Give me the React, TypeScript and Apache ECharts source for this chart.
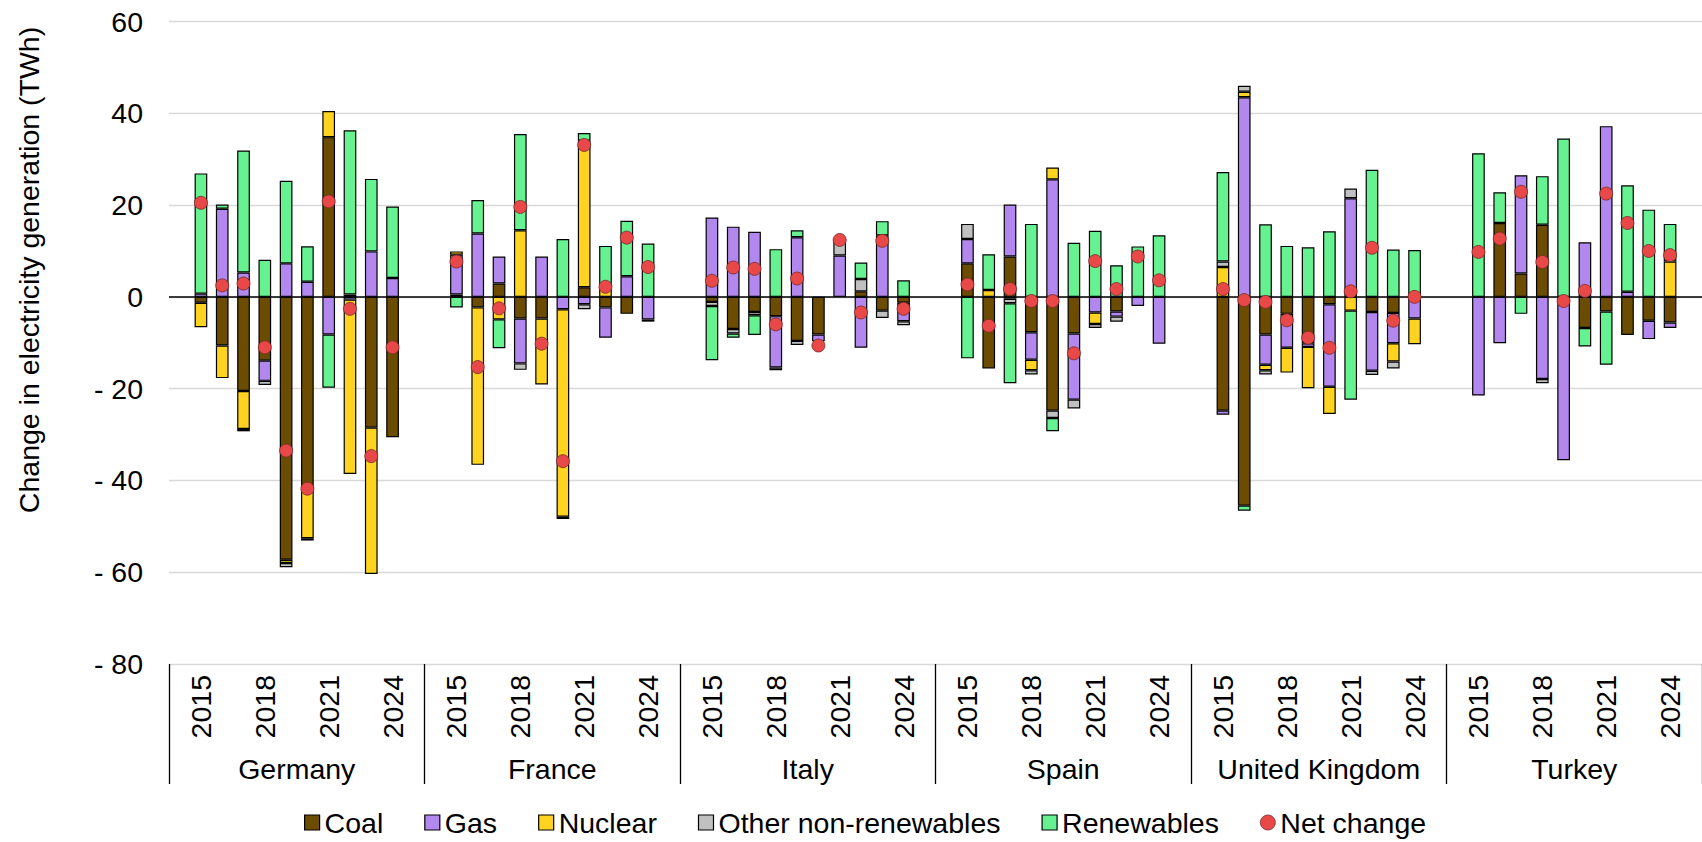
import React, { useEffect, useRef } from "react";
import * as echarts from "echarts";

const countries = ["Germany", "France", "Italy", "Spain", "United Kingdom", "Turkey"];
const years = [2015, 2016, 2017, 2018, 2019, 2020, 2021, 2022, 2023, 2024];
const shownYears = [2015, 2018, 2021, 2024];

// rows: Germany, France, Italy, Spain, United Kingdom, Turkey (2015..2024), TWh
const coal = [
  [-1.3, -10.6, -20.5, -13.9, -57.3, -42.2, 34.8, 0.5, -28.5, -30.6],
  [0.5, -2.3, 2.9, -4.7, -4.7, 0, 2.1, -2.3, -3.7, 0],
  [-1.1, -7.0, -3.3, -4.2, -9.6, -8.2, 0, 1.2, -3.0, -1.3],
  [7.3, -15.6, 8.8, -7.7, -24.8, -8.0, 0, -3.2, 0, 0],
  [-24.8, -45.5, -8.2, -3.7, -10.1, -1.6, 0, -3.3, -3.5, 0],
  [0, 16.1, 5.1, 15.7, 0, -6.8, -3.2, -8.3, -5.2, -5.6],
];
const gas = [
  [0.7, 19.2, 5.3, -4.4, 7.3, 3.3, -8.2, -0.6, 9.9, 4.1],
  [8.7, 13.8, 5.9, -9.8, 8.8, -2.7, -1.6, -6.6, 4.5, -4.9],
  [17.3, 15.3, 14.2, -11.2, 13.0, -1.5, 9.0, -11.1, 13.4, -4.0],
  [5.3, 0, 11.3, -6.0, 25.6, -14.4, -3.4, -1.1, -2.0, -10.2],
  [-0.9, 43.5, -6.6, -7.4, -0.8, -18.0, 21.5, -12.8, -6.6, -4.7],
  [-21.5, -10.1, 21.4, -17.9, -35.6, 11.9, 37.2, 1.1, -4.0, -1.2],
];
const nuclear = [
  [-5.3, -7.1, -8.3, 0, -0.7, -10.4, 5.7, -38.0, -31.9, 0],
  [0.7, -34.3, -4.9, 14.5, -14.4, -45.2, 31.9, 2.2, 0, 0],
  [0, 0, 0, 0, 0, 0, 0, 0, 0, 0],
  [0, 1.5, -0.4, -2.3, 2.6, 0, -2.5, 0, 0, 0],
  [6.5, 1.2, -1.2, -5.4, -9.0, -5.9, -3.0, 0, -4.0, -5.6],
  [0, 0, 0, 0, 0, 0, 0, 0, 0, 7.7],
];
const otherNonRenewables = [
  [0, 0, -0.5, -0.9, -0.9, -0.5, 0, 0, 0, 0],
  [0, 0, 0, -1.4, 0, -0.5, -1.1, 0, 0, -0.5],
  [-0.9, -1.0, -0.7, -0.6, -0.9, 0, 3.6, 2.7, -1.6, -0.9],
  [3.3, 0, -1.0, -0.9, -1.6, -1.9, -0.9, -1.1, 0, 0],
  [1.2, 1.3, -0.9, 0, 0, 0, 2.1, -0.9, -1.5, 0],
  [0, 0, 0, -0.9, 0, 0, 0, 0, 0, 0],
];
const renewables = [
  [26.2, 0.9, 26.6, 8.1, 18.0, 7.7, -11.6, 35.8, 15.8, 15.6],
  [-2.3, 7.3, -6.3, 21.0, 0, 12.6, 1.7, 8.9, 12.1, 11.6],
  [-11.8, -0.9, -4.3, 10.4, 1.5, 0, 0, 3.6, 3.1, 3.6],
  [-13.4, 7.8, -17.4, 15.9, -2.9, 11.8, 14.4, 6.9, 11.0, 13.4],
  [19.5, -1.1, 15.8, 11.1, 10.8, 14.3, -19.4, 27.7, 10.3, 10.2],
  [31.3, 6.7, -3.7, 10.6, 34.5, -4.0, -11.6, 23.2, 19.0, 8.2],
];
const netChange = [
  [20.5, 2.5, 2.9, -11.0, -33.5, -41.8, 20.8, -2.6, -34.7, -11.0],
  [7.7, -15.3, -2.5, 19.6, -10.2, -35.8, 33.1, 2.2, 12.9, 6.5],
  [3.5, 6.4, 6.1, -6.0, 4.0, -10.6, 12.4, -3.4, 12.2, -2.6],
  [2.7, -6.3, 1.7, -0.9, -0.9, -12.3, 7.8, 1.7, 8.8, 3.6],
  [1.7, -0.7, -1.1, -5.1, -8.9, -11.1, 1.2, 10.7, -5.2, 0],
  [9.8, 12.7, 22.9, 7.6, -0.9, 1.3, 22.5, 16.1, 10.0, 9.1],
];
const yTicks = { min: -80, max: 60, interval: 20 };

const FONT = "'Liberation Sans', Arial, sans-serif";
const FS = 28.5;

// one blank slot before and after each country's ten years
const categories: string[] = [];
countries.forEach((c) => {
  categories.push(c + "|a");
  years.forEach((y) => categories.push(c + "|" + y));
  categories.push(c + "|b");
});

function expand(rows: number[][], keepZero: boolean) {
  const out: (number | null)[] = [];
  rows.forEach((r) => {
    out.push(null);
    r.forEach((v) => out.push(v === 0 && !keepZero ? null : v));
    out.push(null);
  });
  return out;
}

const fuels = [
  { name: "Coal", rows: coal, color: "#6B4C00" },
  { name: "Gas", rows: gas, color: "#B288EE" },
  { name: "Nuclear", rows: nuclear, color: "#FFD320" },
  { name: "Other non-renewables", rows: otherNonRenewables, color: "#C0C0C0" },
  { name: "Renewables", rows: renewables, color: "#66F291" },
];

export default function App() {
  const ref = useRef<HTMLDivElement>(null);
  useEffect(() => {
    if (!ref.current) return;
    const chart = echarts.init(ref.current, undefined, { renderer: "svg" });
    const barSeries = fuels.map((f) => ({
      name: f.name,
      type: "bar",
      stack: "total",
      xAxisIndex: 0,
      yAxisIndex: 0,
      barWidth: 12.7,
      data: expand(f.rows, false),
      itemStyle: { color: f.color, borderColor: "#000", borderWidth: 1.2 },
    }));
    chart.setOption({
      animation: false,
      textStyle: { fontFamily: FONT },
      grid: { left: 169, right: -7.8, top: 21.5, bottom: 178, containLabel: false },
      legend: {
        left: 299,
        top: 803,
        itemGap: 41,
        itemWidth: 15,
        itemHeight: 15,
        textStyle: { fontSize: FS, color: "#000", fontFamily: FONT },
        data: [
          ...fuels.map((f) => ({
            name: f.name,
            icon: "rect",
            itemStyle: { color: f.color, borderColor: "#000", borderWidth: 1.2 },
          })),
          {
            name: "Net change",
            icon: "circle",
            itemStyle: { color: "#E84848", borderColor: "#7a2a2a", borderWidth: 0.8 },
          },
        ],
      },
      xAxis: [
        {
          type: "category",
          position: "bottom",
          data: categories,
          axisLine: { show: false },
          axisTick: { show: false },
          axisLabel: {
            interval: 0,
            rotate: 90,
            margin: 11,
            fontSize: FS,
            color: "#000",
            fontFamily: FONT,
            formatter: (v: string) => {
              const y = Number(v.split("|")[1]);
              return shownYears.includes(y) ? String(y) : "";
            },
          },
        },
        {
          type: "category",
          position: "bottom",
          data: countries,
          boundaryGap: true,
          axisLine: { show: false },
          axisTick: { show: true, interval: 0, length: 120, lineStyle: { color: "#000", width: 1.3 } },
          axisLabel: { interval: 0, margin: 90, fontSize: FS, color: "#000", fontFamily: FONT },
        },
      ],
      yAxis: {
        type: "value",
        min: yTicks.min,
        max: yTicks.max,
        interval: yTicks.interval,
        axisLine: { show: false },
        axisTick: { show: false },
        splitLine: { lineStyle: { color: "#d9d9d9", width: 1.3 } },
        axisLabel: {
          margin: 26,
          fontSize: FS,
          color: "#000",
          fontFamily: FONT,
          formatter: (v: number) => (v < 0 ? "- " + Math.abs(v) : String(v)),
        },
      },
      graphic: [
        {
          type: "text",
          x: 29,
          y: 270,
          rotation: Math.PI / 2,
          style: {
            text: "Change in electricity generation (TWh)",
            fontSize: FS,
            fill: "#000",
            fontFamily: FONT,
            align: "center",
            verticalAlign: "middle",
          },
        },
      ],
      series: [
        ...barSeries,
        {
          name: "Net change",
          type: "scatter",
          xAxisIndex: 0,
          yAxisIndex: 0,
          symbol: "circle",
          symbolSize: 13,
          z: 10,
          data: expand(netChange, true),
          itemStyle: { color: "#E84848", borderColor: "#7a2a2a", borderWidth: 0.8, opacity: 1 },
          markLine: {
            silent: true,
            symbol: ["none", "none"],
            label: { show: false },
            lineStyle: { color: "#000", width: 1.6, type: "solid" },
            data: [{ yAxis: 0 }],
          },
        },
      ],
    });
    return () => chart.dispose();
  }, []);
  return (
    <div
      ref={ref}
      style={{ position: "absolute", left: 0, top: 0, width: 1702, height: 842 }}
    />
  );
}
